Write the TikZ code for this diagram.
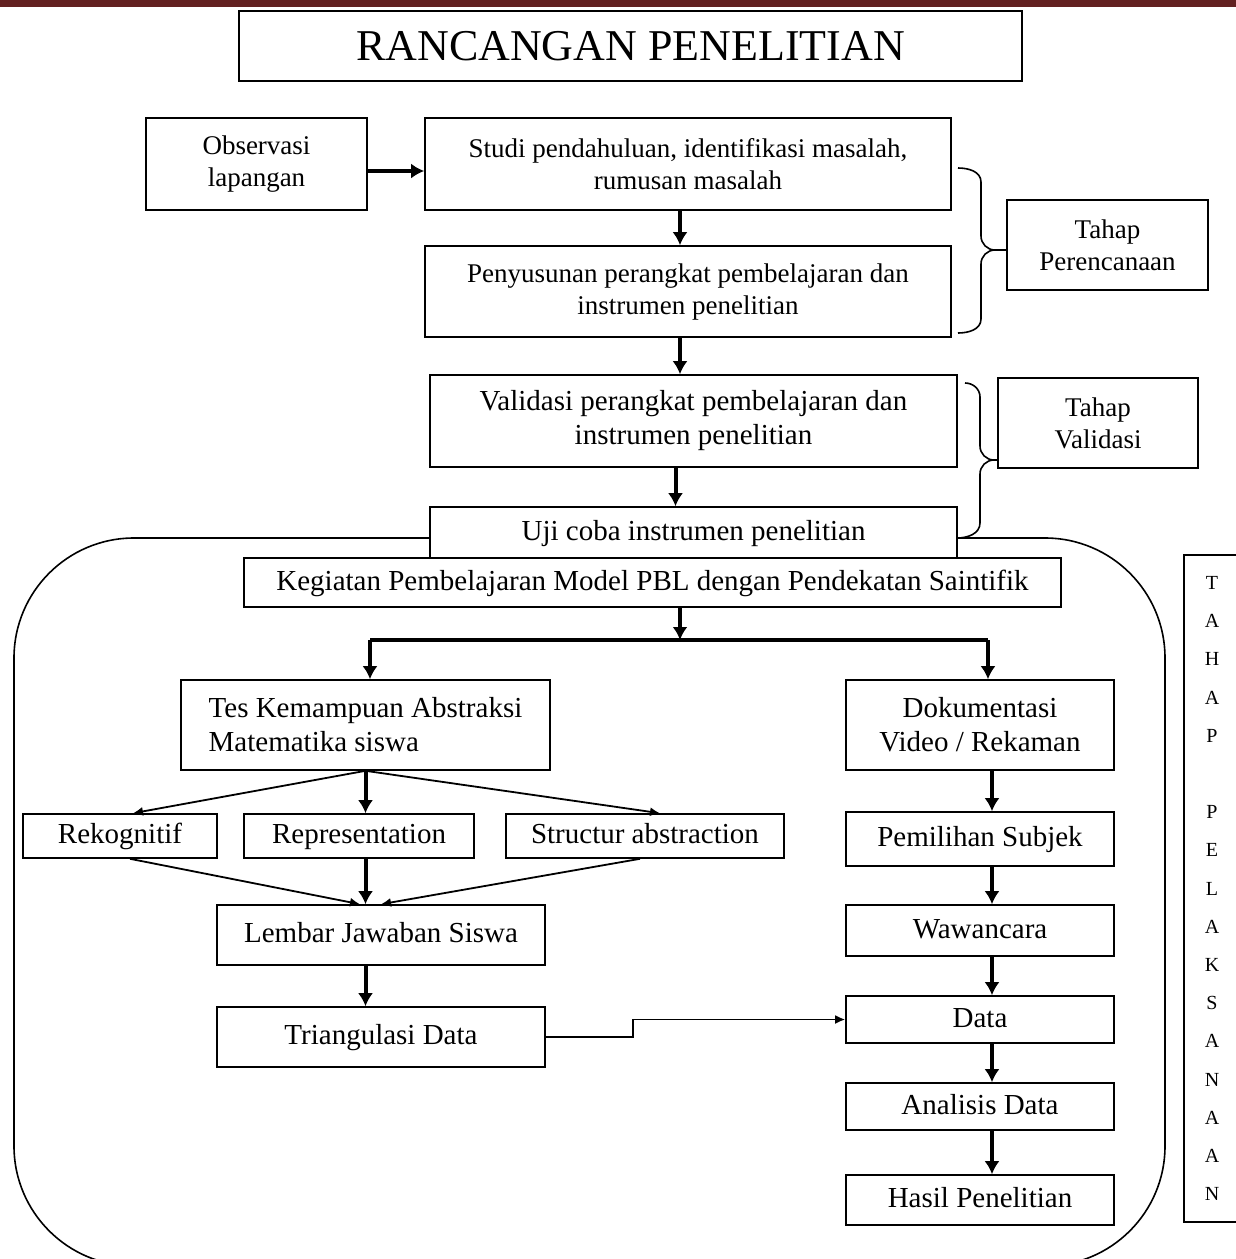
\documentclass[tikz,border=0pt]{standalone}
\usepackage{fontspec}
\setmainfont{Liberation Serif}
\usetikzlibrary{arrows.meta}
\definecolor{merahtua}{RGB}{99,33,33}

\tikzset{
  kotak/.style={draw, line width=1.6pt, fill=white, inner sep=2pt, align=center},
  satu/.style={text height=22pt, text depth=7pt},
  hurufA/.style={font=\fontsize{27}{32}\selectfont},
  hurufB/.style={font=\fontsize{29}{34}\selectfont},
  tebal/.style={line width=4pt, >={Latex[length=13pt,width=15pt]}},
  tipis/.style={line width=1.8pt, >={Latex[length=10pt,width=9pt]}},
}

\begin{document}
\begin{tikzpicture}[x=1pt, y=-1pt]
  \useasboundingbox (0,0) rectangle (1236,1259);
  \fill[merahtua] (0,0) rectangle (1236,7);

  % wadah tahap pelaksanaan
  \draw[line width=1.6pt, rounded corners=120pt] (14,538) rectangle (1165,1266);

  \node[kotak, minimum width=783pt, minimum height=70pt, font=\fontsize{44}{50}\selectfont] (judul) at (630.5,46) {RANCANGAN PENELITIAN};

  % tahap perencanaan
  \node[kotak, hurufA, minimum width=221pt, minimum height=92pt] (obs) at (256.5,164) {Observasi\\lapangan};
  \node[kotak, hurufA, minimum width=526pt, minimum height=92pt] (studi) at (688,164) {Studi pendahuluan, identifikasi masalah,\\rumusan masalah};
  \node[kotak, hurufA, minimum width=526pt, minimum height=91pt] (susun) at (688,291.5) {Penyusunan perangkat pembelajaran dan\\instrumen penelitian};
  \node[kotak, hurufA, minimum width=201pt, minimum height=90pt] (perenc) at (1107.5,245) {Tahap\\Perencanaan};

  % tahap validasi
  \node[kotak, hurufB, minimum width=527pt, minimum height=92pt] (valid) at (693.5,421) {Validasi perangkat pembelajaran dan\\instrumen penelitian};
  \node[kotak, hurufA, minimum width=200pt, minimum height=90pt] (tvalid) at (1098,423) {Tahap\\Validasi};
  \node[kotak, hurufB, satu, minimum width=527pt, minimum height=51pt] (uji) at (693.5,532.5) {Uji coba instrumen penelitian};

  % tahap pelaksanaan
  \node[kotak, hurufB, satu, minimum width=817pt, minimum height=49pt] (keg) at (652.5,582.5) {Kegiatan Pembelajaran Model PBL dengan Pendekatan Saintifik};
  \node[kotak, hurufB, align=left, minimum width=369pt, minimum height=90pt] (tes) at (365.5,725) {Tes Kemampuan Abstraksi\\Matematika siswa};
  \node[kotak, hurufB, minimum width=268pt, minimum height=90pt] (doku) at (980,725) {Dokumentasi\\Video / Rekaman};
  \node[kotak, hurufB, satu, minimum width=194pt, minimum height=44pt] (rek) at (120,836) {Rekognitif};
  \node[kotak, hurufB, satu, minimum width=230pt, minimum height=44pt] (rep) at (359,836) {Representation};
  \node[kotak, hurufB, satu, minimum width=278pt, minimum height=44pt] (str) at (645,836) {Structur abstraction};
  \node[kotak, hurufB, satu, minimum width=328pt, minimum height=60pt] (lembar) at (381,935) {Lembar Jawaban Siswa};
  \node[kotak, hurufB, satu, minimum width=328pt, minimum height=60pt] (tri) at (381,1037) {Triangulasi Data};
  \node[kotak, hurufB, satu, minimum width=268pt, minimum height=54pt] (pilih) at (980,839) {Pemilihan Subjek};
  \node[kotak, hurufB, satu, minimum width=268pt, minimum height=51pt] (wawan) at (980,930.5) {Wawancara};
  \node[kotak, hurufB, satu, minimum width=268pt, minimum height=47pt] (data) at (980,1019.5) {Data};
  \node[kotak, hurufB, satu, minimum width=268pt, minimum height=47pt] (anal) at (980,1106.5) {Analisis Data};
  \node[kotak, hurufB, satu, minimum width=268pt, minimum height=50pt] (hasil) at (980,1200) {Hasil Penelitian};
  \node[kotak, minimum width=56pt, minimum height=667pt, font=\fontsize{20}{38.2}\selectfont] (pelaks) at (1212,888.5)
    {T\\A\\H\\A\\P\\[38.2pt]P\\E\\L\\A\\K\\S\\A\\N\\A\\A\\N};

  % kurung kurawal
  \coordinate (ujung1) at (995,250);
  \coordinate (ujung2) at (994,460);
  \draw[line width=1.6pt] (958,168) to[out=0,in=90] (981,182) -- (981,236) to[out=-90,in=180] (ujung1)
    to[out=180,in=90] (981,264) -- (981,319) to[out=-90,in=0] (958,333);
  \draw[line width=1.6pt] (ujung1) -- (ujung1 -| perenc.west);
  \draw[line width=1.6pt] (965,383) to[out=0,in=90] (980,397) -- (980,446) to[out=-90,in=180] (ujung2)
    to[out=180,in=90] (980,474) -- (980,523) to[out=-90,in=0] (957,538);
  \draw[line width=1.6pt] (ujung2) -- (ujung2 -| tvalid.west);

  % alur atas
  \path[->, tebal]
  ([yshift=-7pt]obs.east) edge ([yshift=-7pt]obs.east -| studi.west)
  ([xshift=-8pt]studi.south) edge ([xshift=-8pt]susun.north)
  ([xshift=-8pt]susun.south) edge ([xshift=-8pt]susun.south |- valid.north)
  ([xshift=-18pt]valid.south) edge ([xshift=-18pt]uji.north)
          ;

  % percabangan
  \coordinate (cabang) at (680,640);
  \coordinate (kiri) at (370,640);
  \coordinate (kanan) at (988,640);
  \draw[tebal, line width=3.2pt] (kiri) -- (kanan);
  \path[->, tebal]
  (keg.south -| cabang) edge (cabang)
  (kiri) edge (kiri |- tes.north)
  (kanan) edge (kanan |- doku.north)
          ;

  % kolom kiri
  \path[->, tebal]
  (tes.south) edge (tes.south |- rep.north)
  (tes.south |- rep.south) edge (tes.south |- lembar.north)
  (tes.south |- lembar.south) edge (tes.south |- tri.north)
          ;
  \path[->, tipis]
  (tes.south) edge ([xshift=13pt]rek.north)
  (tes.south) edge ([xshift=15pt]str.north)
  ([xshift=10pt]rek.south) edge ([xshift=-21pt]lembar.north)
  ([xshift=-5pt]str.south) edge (lembar.north)
          ;
  \draw[->, tipis] (tri.east) -- ++(87,0) |- (data.west);

  % kolom kanan
  \path[->, tebal]
  ([xshift=12pt]doku.south) edge ([xshift=12pt]pilih.north)
  ([xshift=12pt]pilih.south) edge ([xshift=12pt]wawan.north)
  ([xshift=12pt]wawan.south) edge ([xshift=12pt]data.north)
  ([xshift=12pt]data.south) edge ([xshift=12pt]anal.north)
  ([xshift=12pt]anal.south) edge ([xshift=12pt]hasil.north)
          ;
\end{tikzpicture}
\end{document}
